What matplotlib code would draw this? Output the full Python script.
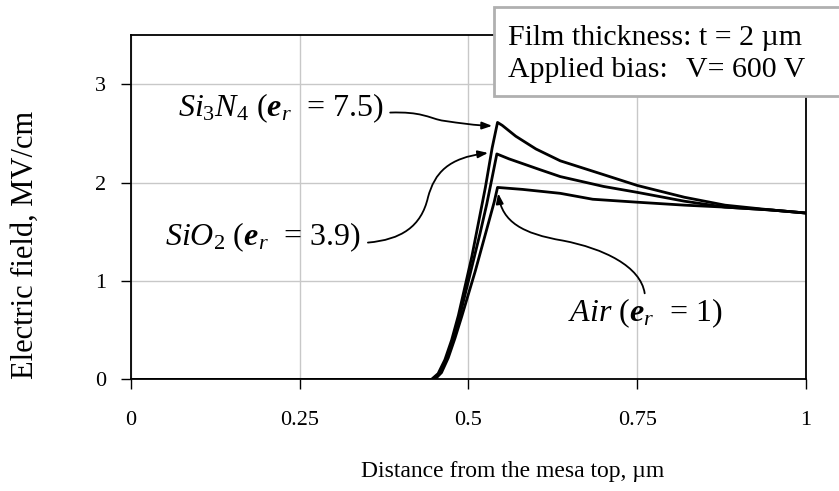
import matplotlib
matplotlib.use("Agg")
import matplotlib.pyplot as plt
from matplotlib.patches import FancyArrowPatch, Rectangle
from matplotlib.path import Path

plt.rcParams['font.family'] = ['Liberation Serif', 'DejaVu Serif']
plt.rcParams['mathtext.fontset'] = 'custom'
plt.rcParams['mathtext.rm'] = 'Liberation Serif'
plt.rcParams['mathtext.it'] = 'Liberation Serif:italic'
plt.rcParams['mathtext.bf'] = 'Liberation Serif:bold:italic'

# electric field along the surface, MV/cm
x_si3n4 = [0, 0.445, 0.455, 0.465, 0.475, 0.485, 0.495, 0.505, 0.515, 0.525, 0.535, 0.543,
           0.55, 0.57, 0.60, 0.636, 0.70, 0.75, 0.82, 0.88, 0.95, 1.0]
e_si3n4 = [0, 0, 0.06, 0.2, 0.4, 0.65, 0.95, 1.25, 1.6, 1.95, 2.35, 2.61,
           2.58, 2.47, 2.34, 2.22, 2.08, 1.97, 1.85, 1.77, 1.72, 1.69]

x_sio2 = [0, 0.447, 0.457, 0.467, 0.477, 0.487, 0.497, 0.507, 0.517, 0.527, 0.535, 0.542,
          0.56, 0.606, 0.636, 0.70, 0.75, 0.82, 0.88, 0.95, 1.0]
e_sio2 = [0, 0, 0.06, 0.2, 0.4, 0.64, 0.92, 1.2, 1.48, 1.78, 2.05, 2.29,
          2.24, 2.13, 2.06, 1.96, 1.90, 1.81, 1.75, 1.72, 1.69]

x_air = [0, 0.45, 0.46, 0.47, 0.48, 0.49, 0.50, 0.51, 0.52, 0.53, 0.538, 0.543,
         0.58, 0.636, 0.684, 0.75, 0.82, 0.88, 0.95, 1.0]
e_air = [0, 0, 0.07, 0.22, 0.42, 0.64, 0.87, 1.1, 1.35, 1.6, 1.8, 1.95,
         1.93, 1.89, 1.83, 1.80, 1.77, 1.75, 1.72, 1.69]

x_ticks = [0, 0.25, 0.5, 0.75, 1]
x_ticklabels = ['0', '0.25', '0.5', '0.75', '1']
y_ticks = [0, 1, 2, 3]

fig = plt.figure(figsize=(8.39, 4.91), dpi=100)
ax = fig.add_axes([0.1561, 0.2271, 0.8046, 0.7021])

for xs, ys in [(x_air, e_air), (x_sio2, e_sio2), (x_si3n4, e_si3n4)]:
    ax.plot(xs, ys, color='black', lw=2, solid_joinstyle='round', zorder=3)

ax.set_xlim(0, 1)
ax.set_ylim(0, 3.5)
ax.set_xticks(x_ticks)
ax.set_xticklabels(x_ticklabels)
ax.set_yticks(y_ticks)
ax.grid(True, color='#c8c8c8', lw=1)
ax.set_axisbelow(True)
for sp in ax.spines.values():
    sp.set_linewidth(1.3)
ax.tick_params(direction='out', length=7, width=1, labelsize=16)
ax.tick_params(axis='x', pad=16)
ax.tick_params(axis='y', pad=11)
ax.set_xlabel('Distance from the mesa top, \u00b5m', fontsize=17)
ax.set_ylabel('Electric field, MV/cm', fontsize=22)
ax.xaxis.set_label_coords(0.565, -0.235)
ax.yaxis.set_label_coords(-0.135, 0.39)

# curve labels
ax.text(0.069, 2.67, r'$Si_3N_4$ ($\mathbf{e}_r$  = 7.5)', fontsize=23, va='baseline')
ax.text(0.050, 1.365, r'$SiO_2$ ($\mathbf{e}_r$  = 3.9)', fontsize=23, va='baseline')
ax.text(0.648, 0.587, r'$Air$ ($\mathbf{e}_r$  = 1)', fontsize=23, va='baseline')

M, C = Path.MOVETO, Path.CURVE4
arrows = [
    [(0.384, 2.71), (0.43, 2.72), (0.44, 2.66), (0.46, 2.63),
     (0.49, 2.60), (0.51, 2.58), (0.535, 2.575)],
    [(0.351, 1.39), (0.40, 1.42), (0.43, 1.55), (0.44, 1.85),
     (0.45, 2.10), (0.47, 2.25), (0.529, 2.30)],
    [(0.761, 0.875), (0.755, 1.15), (0.70, 1.33), (0.64, 1.41),
     (0.58, 1.48), (0.55, 1.60), (0.544, 1.89)],
]
for verts in arrows:
    p = Path(verts, [M, C, C, C, C, C, C])
    ax.add_patch(FancyArrowPatch(path=p, arrowstyle='-|>,head_length=6,head_width=2.2',
                                 color='black', lw=1.3, zorder=4))

# info box
fig.add_artist(Rectangle((0.589, 0.805), 0.42, 0.181, transform=fig.transFigure,
                         facecolor='white', edgecolor='#b0b0b0', lw=2, zorder=5))
fig.text(0.6055, 0.908, 'Film thickness: t = 2 \u00b5m', fontsize=21.5, va='baseline', zorder=6)
fig.text(0.6055, 0.843, 'Applied bias:', fontsize=21.5, va='baseline', zorder=6)
fig.text(0.818, 0.843, 'V= 600 V', fontsize=21.5, va='baseline', zorder=6)

fig.savefig('out.png', dpi=100)
